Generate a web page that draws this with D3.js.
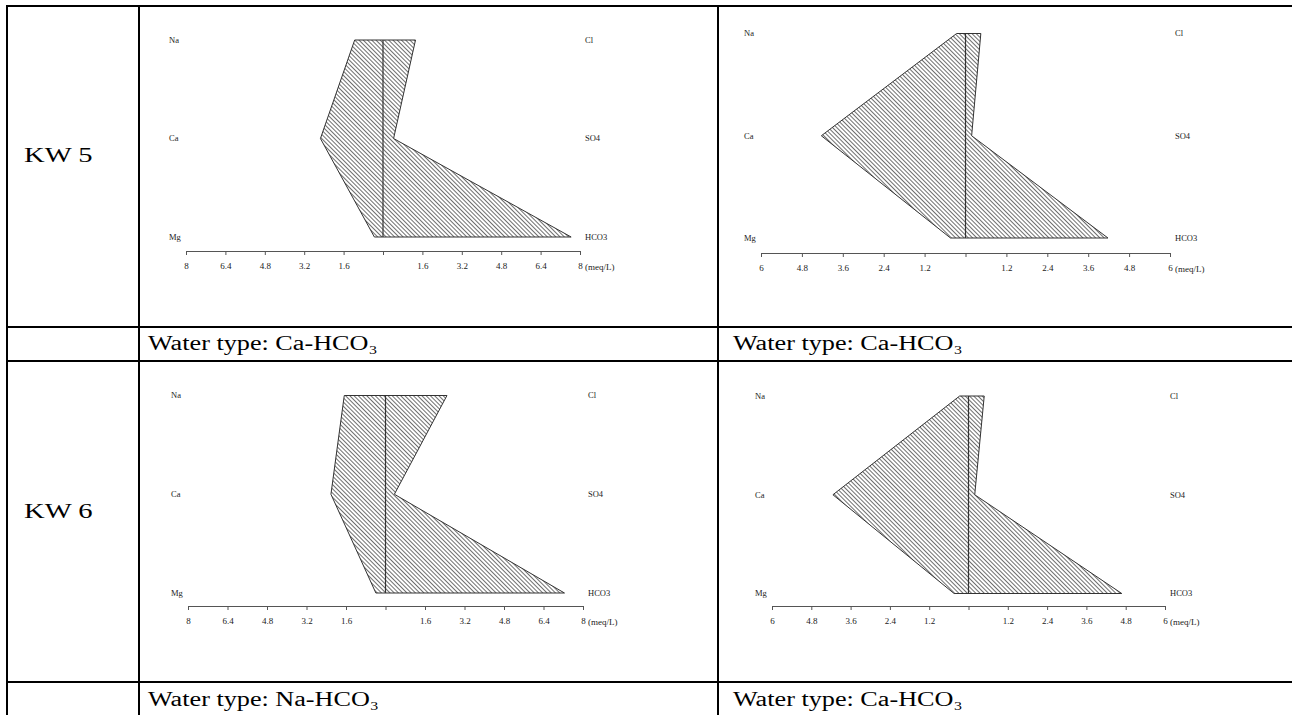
<!DOCTYPE html>
<html>
<head>
<meta charset="utf-8">
<script src="https://cdn.jsdelivr.net/npm/d3@7"></script>
<style>
  body { margin: 0; background: #fff; }
  svg { display: block; }
  text { font-family: "Liberation Serif", "Times New Roman", serif; }
</style>
</head>
<body>
<svg width="1292" height="715"></svg>
<script>
// Stiff diagrams, values in meq/L
const samples = ['KW 5', 'KW 6'];
const cations = ['Na', 'Ca', 'Mg'];
const anions = ['Cl', 'SO4', 'HCO3'];

const kw5LeftCations = [1.15, 2.54, 0.35];
const kw5LeftAnions = [1.32, 0.43, 7.64];
const kw5RightCations = [0.26, 4.23, 0.44];
const kw5RightAnions = [0.45, 0.18, 4.18];
const kw6LeftCations = [1.67, 2.21, 0.39];
const kw6LeftAnions = [2.49, 0.36, 7.25];
const kw6RightCations = [0.27, 4.14, 0.44];
const kw6RightAnions = [0.48, 0.19, 4.68];

const ticks8 = [1.6, 3.2, 4.8, 6.4, 8];
const ticks6 = [1.2, 2.4, 3.6, 4.8, 6];

const waterTypes = ['Ca-HCO\u2083', 'Ca-HCO\u2083', 'Na-HCO\u2083', 'Ca-HCO\u2083'];

// where each little diagram sits on the page
const panels = [
  {cat: kw5LeftCations, an: kw5LeftAnions, ticks: ticks8, x0: 186, x1: 580, top: 40, bottom: 237, axisY: 251},
  {cat: kw5RightCations, an: kw5RightAnions, ticks: ticks6, x0: 761, x1: 1170, top: 33.5, bottom: 238, axisY: 253},
  {cat: kw6LeftCations, an: kw6LeftAnions, ticks: ticks8, x0: 188, x1: 583, top: 395.5, bottom: 593, axisY: 606},
  {cat: kw6RightCations, an: kw6RightAnions, ticks: ticks6, x0: 772, x1: 1165, top: 396, bottom: 593.5, axisY: 606}
];

const svg = d3.select('svg');

const defs = svg.append('defs');
defs.append('pattern')
  .attr('id', 'hatch')
  .attr('patternUnits', 'userSpaceOnUse')
  .attr('width', 3)
  .attr('height', 10)
  .attr('patternTransform', 'rotate(-45)')
  .append('line')
  .attr('x1', 0.5).attr('y1', 0)
  .attr('x2', 0.5).attr('y2', 10)
  .attr('stroke', '#4a4a4a')
  .attr('stroke-width', 0.8);

function drawStiff(p) {
  const max = p.ticks[p.ticks.length - 1];
  const x = d3.scaleLinear().domain([-max, max]).range([p.x0, p.x1]);
  const y = d3.scalePoint().domain([0, 1, 2]).range([p.top, p.bottom]);
  const g = svg.append('g');

  const pts = p.cat.map((v, i) => [x(-v), y(i)])
    .concat(p.an.map((v, i) => [x(v), y(i)]).reverse());

  g.append('path')
    .attr('d', d3.line()(pts) + 'Z')
    .attr('fill', 'url(#hatch)')
    .attr('stroke', '#333')
    .attr('stroke-width', 1);

  g.append('line')
    .attr('x1', x(0)).attr('x2', x(0))
    .attr('y1', y(0)).attr('y2', y(2))
    .attr('stroke', '#333')
    .attr('stroke-width', 1.2);

  g.selectAll('.cat')
    .data(cations)
    .enter()
    .append('text')
    .attr('x', p.x0 - 17)
    .attr('y', (d, i) => y(i))
    .attr('dy', '0.35em')
    .attr('font-size', 8.5)
    .attr('fill', '#222')
    .text(d => d);

  g.selectAll('.an')
    .data(anions)
    .enter()
    .append('text')
    .attr('x', p.x1 + 5)
    .attr('y', (d, i) => y(i))
    .attr('dy', '0.35em')
    .attr('font-size', 8.5)
    .attr('fill', '#222')
    .text(d => d);

  const tv = p.ticks.map(t => -t).reverse().concat([0], p.ticks);
  const axis = g.append('g')
    .attr('transform', 'translate(0,' + p.axisY + ')')
    .call(d3.axisBottom(x)
      .tickValues(tv)
      .tickSize(4)
      .tickSizeOuter(4)
      .tickPadding(8)
      .tickFormat(d => (d === 0 ? '' : String(Math.abs(d)))));
  axis.attr('font-family', null).attr('font-size', 9);
  axis.selectAll('path, line').attr('stroke', '#555');
  axis.selectAll('text').attr('fill', '#222');

  g.append('text')
    .attr('x', p.x1 + 5)
    .attr('y', p.axisY + 16)
    .attr('dy', '0.35em')
    .attr('font-size', 9)
    .attr('fill', '#222')
    .text('(meq/L)');
}

panels.forEach(drawStiff);

// table frame
const hLines = [6, 327, 361, 682];
const vLines = [7, 139, 718];
svg.append('g').selectAll('line')
  .data(hLines)
  .enter()
  .append('line')
  .attr('x1', 6).attr('x2', 1292)
  .attr('y1', d => d).attr('y2', d => d)
  .attr('stroke', '#000').attr('stroke-width', 2);
svg.append('g').selectAll('line')
  .data(vLines)
  .enter()
  .append('line')
  .attr('x1', d => d).attr('x2', d => d)
  .attr('y1', 5).attr('y2', 715)
  .attr('stroke', '#000').attr('stroke-width', 2);

// sample names
const rowMid = [162, 518];
svg.append('g').selectAll('text')
  .data(samples)
  .enter()
  .append('text')
  .attr('transform', (d, i) => 'translate(24,' + rowMid[i] + ') scale(1.3,1)')
  .attr('font-size', 22)
  .attr('fill', '#000')
  .text(d => d);

// water type captions
const capX = [148, 733, 148, 733];
const capY = [350, 350, 706, 706];
svg.append('g').selectAll('text')
  .data(waterTypes)
  .enter()
  .append('text')
  .attr('transform', (d, i) => 'translate(' + capX[i] + ',' + capY[i] + ') scale(1.31,1)')
  .attr('font-size', 20)
  .attr('fill', '#000')
  .text(d => 'Water type: ' + d);
</script>
</body>
</html>
